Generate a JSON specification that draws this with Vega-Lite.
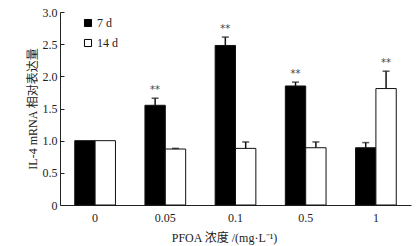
{
  "$schema": "https://vega.github.io/schema/vega-lite/v6.json",
  "width": 351,
  "height": 193,
  "autosize": "none",
  "padding": {"left": 60, "top": 12, "right": 6, "bottom": 41},
  "background": "white",
  "config": {
    "view": {"stroke": null},
    "font": "Liberation Serif, Noto Sans CJK SC",
    "axisY": {
      "labelOverlap": false,
      "grid": false, "tickSize": -4, "labelPadding": 7,
      "labelFontSize": 12, "labelColor": "#222", "tickColor": "#222",
      "titleFontSize": 12, "titleFontWeight": "normal", "titleColor": "#222",
      "titlePadding": 3, "domainColor": "#222", "domainWidth": 1
    }
  },
  "data": {
    "values": [
      {"conc": "0", "group": "7 d", "value": 1.0, "err": null, "sig": ""},
      {"conc": "0", "group": "14 d", "value": 1.0, "err": null, "sig": ""},
      {"conc": "0.05", "group": "7 d", "value": 1.55, "err": 1.66, "sig": "**"},
      {"conc": "0.05", "group": "14 d", "value": 0.87, "err": 0.88, "sig": ""},
      {"conc": "0.1", "group": "7 d", "value": 2.48, "err": 2.61, "sig": "**"},
      {"conc": "0.1", "group": "14 d", "value": 0.88, "err": 0.98, "sig": ""},
      {"conc": "0.5", "group": "7 d", "value": 1.85, "err": 1.91, "sig": "**"},
      {"conc": "0.5", "group": "14 d", "value": 0.89, "err": 0.98, "sig": ""},
      {"conc": "1", "group": "7 d", "value": 0.89, "err": 0.97, "sig": ""},
      {"conc": "1", "group": "14 d", "value": 1.81, "err": 2.08, "sig": "**"}
    ]
  },
  "encoding": {
    "x": {
      "field": "conc", "type": "nominal", "sort": ["0", "0.05", "0.1", "0.5", "1"],
      "scale": {"paddingInner": 0.42, "paddingOuter": 0.21},
      "axis": {
        "title": "PFOA 浓度 /(mg·L⁻¹)",
        "labelAngle": 0, "ticks": false, "labelPadding": 7,
        "labelFontSize": 12, "labelColor": "#222", "titleFontSize": 12, "titleFontWeight": "normal",
        "titleColor": "#222", "titleX": 164, "titleY": 27,
        "domainColor": "#222", "domainWidth": 1
      }
    },
    "xOffset": {"field": "group", "type": "nominal", "sort": ["7 d", "14 d"], "scale": {"paddingInner": 0, "paddingOuter": 0}}
  },
  "layer": [
    {
      "mark": {"type": "bar", "stroke": "#111", "strokeWidth": 1},
      "encoding": {
        "y": {
          "field": "value", "type": "quantitative",
          "scale": {"domain": [0, 3]},
          "axis": {
            "title": "IL-4 mRNA 相对表达量",
            "values": [0, 0.5, 1, 1.5, 2, 2.5, 3],
            "labelExpr": "datum.value == 0 ? '0' : format(datum.value, '.1f')"
          }
        },
        "fill": {
          "field": "group", "type": "nominal", "sort": ["7 d", "14 d"],
          "scale": {"range": ["#000000", "#ffffff"]},
          "legend": {
            "title": null, "orient": "none", "legendX": 22, "legendY": 5,
            "symbolType": "square", "symbolSize": 50, "symbolStrokeColor": "#000",
            "symbolStrokeWidth": 1, "labelFontSize": 12, "labelColor": "#222",
            "rowPadding": 8, "labelOffset": 3
          }
        }
      }
    },
    {
      "mark": {"type": "rule", "color": "#111", "strokeWidth": 1.5},
      "encoding": {
        "y": {"field": "value", "type": "quantitative", "scale": {"domain": [0, 3]},
          "axis": {"title": "IL-4 mRNA 相对表达量", "values": [0, 0.5, 1, 1.5, 2, 2.5, 3],
            "labelExpr": "datum.value == 0 ? '0' : format(datum.value, '.1f')"}},
        "y2": {"field": "err"}
      }
    },
    {
      "mark": {"type": "tick", "color": "#111", "thickness": 1.5, "size": 7},
      "encoding": {
        "y": {"field": "err", "type": "quantitative", "scale": {"domain": [0, 3]},
          "axis": {"title": "IL-4 mRNA 相对表达量", "values": [0, 0.5, 1, 1.5, 2, 2.5, 3],
            "labelExpr": "datum.value == 0 ? '0' : format(datum.value, '.1f')"}}
      }
    },
    {
      "mark": {"type": "text", "dy": -8, "fontSize": 10, "fill": "#444", "font": "DejaVu Sans"},
      "encoding": {
        "y": {"field": "err", "type": "quantitative", "scale": {"domain": [0, 3]},
          "axis": {"title": "IL-4 mRNA 相对表达量", "values": [0, 0.5, 1, 1.5, 2, 2.5, 3],
            "labelExpr": "datum.value == 0 ? '0' : format(datum.value, '.1f')"}},
        "text": {"field": "sig"}
      }
    }
  ]
}
